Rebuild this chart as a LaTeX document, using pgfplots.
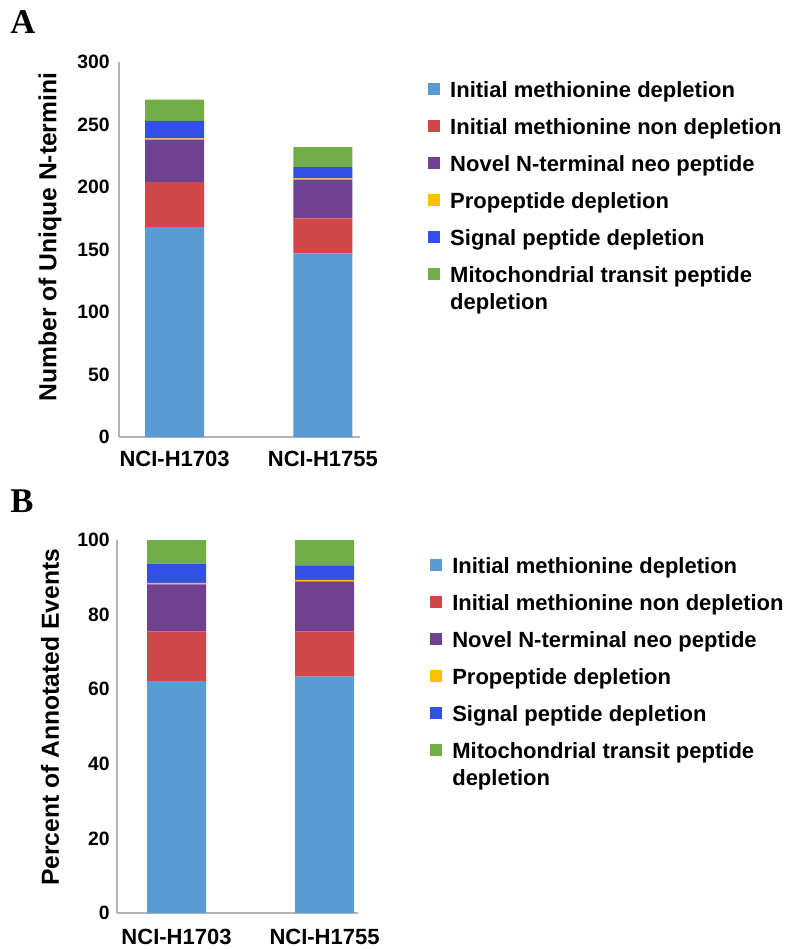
\documentclass[border=0pt]{standalone}
\usepackage{pgfplots}
\pgfplotsset{compat=1.18}
\usepackage{fontspec}
\setmainfont{Liberation Sans}
\newfontfamily\serifletter{Liberation Serif}
\definecolor{cA}{RGB}{91,155,213}
\definecolor{cB}{RGB}{208,72,72}
\definecolor{cC}{RGB}{112,65,145}
\definecolor{cD}{RGB}{255,192,0}
\definecolor{cE}{RGB}{50,80,230}
\definecolor{cF}{RGB}{112,173,71}
\pgfplotsset{
  panel/.style={
    scale only axis,
    width=180.75pt,
    ybar stacked,
    bar width=44.25pt,
    axis x line*=bottom,
    axis y line*=left,
    axis line style={-, draw=black!30, line width=0.8pt},
    xtick={0,1},
    xticklabels={NCI-H1703,NCI-H1755},
    xtick style={draw=none},
    ytick style={draw=none},
    ymin=0,
    /pgf/number format/assume math mode=true,
    yticklabel style={font=\bfseries\fontsize{14.5}{16}\selectfont, inner sep=0pt, anchor=east},
    xticklabel style={font=\bfseries\fontsize{16.5}{19}\selectfont, inner sep=0pt, anchor=north},
    ylabel style={font=\bfseries\fontsize{18.5}{21}\selectfont, anchor=center, rotate=0},
    legend image code/.code={\fill[##1,draw=none] (0pt,1.5pt) rectangle (9pt,10.5pt);},
    legend style={draw=none, fill=none, inner sep=0pt, anchor=north west,
      font=\bfseries\fontsize{16.5}{19}\selectfont,
      row sep=12.25pt, column sep=7.5pt,
      cells={anchor=base west},
      nodes={inner sep=0pt, text height=12pt, text depth=3.5pt}},
    every axis plot/.append style={draw=none},
  }
}
\begin{document}
\begin{tikzpicture}
\useasboundingbox (0,0) rectangle (595.5pt,-712.5pt);
\node[anchor=base west, inner sep=0pt, font=\serifletter\bfseries\fontsize{26}{30}\selectfont] at (7.5pt,-24.75pt) {A};
\node[anchor=base west, inner sep=0pt, font=\serifletter\bfseries\fontsize{26}{30}\selectfont] at (7.5pt,-384pt) {B};
% Panel A
\begin{axis}[panel,
  at={(89.25pt,-327.75pt)}, anchor=south west,
  height=281.25pt,
  xmin=-0.375, xmax=1.25,
  ymax=300, ytick={0,50,100,150,200,250,300},
  yticklabel style={xshift=-6.75pt},
  xticklabel style={yshift=-10.5pt},
  ylabel={Number of Unique N-termini},
  ylabel style={at={(axis description cs:-0.286,0.533)}},
  legend style={at={(axis description cs:1.282,0.949)}},
]
\addplot[fill=cA] coordinates {(0,168) (1,147)};
\addplot[fill=cB] coordinates {(0,36) (1,28)};
\addplot[fill=cC] coordinates {(0,34) (1,31)};
\addplot[fill=cD] coordinates {(0,1) (1,1)};
\addplot[fill=cE] coordinates {(0,14) (1,9)};
\addplot[fill=cF] coordinates {(0,17) (1,16)};
\legend{Initial methionine depletion, Initial methionine non depletion, Novel N-terminal neo peptide, Propeptide depletion, Signal peptide depletion, {\vtop{\baselineskip=20pt\hbox{Mitochondrial transit peptide}\hbox{depletion}}}}
\end{axis}
% Panel B
\begin{axis}[panel,
  at={(87.75pt,-684.75pt)}, anchor=south west,
  height=279.75pt,
  xmin=-0.402, xmax=1.226,
  ymax=100, ytick={0,20,40,60,80,100},
  yticklabel style={xshift=-5.25pt},
  xticklabel style={yshift=-12pt},
  ylabel={Percent of Annotated Events},
  ylabel style={at={(axis description cs:-0.278,0.525)}},
  legend style={at={(axis description cs:1.299,0.954)}},
]
\addplot[fill=cA] coordinates {(0,62.2) (1,63.4)};
\addplot[fill=cB] coordinates {(0,13.3) (1,12.1)};
\addplot[fill=cC] coordinates {(0,12.6) (1,13.4)};
\addplot[fill=cD] coordinates {(0,0.4) (1,0.4)};
\addplot[fill=cE] coordinates {(0,5.2) (1,3.9)};
\addplot[fill=cF] coordinates {(0,6.3) (1,6.8)};
\legend{Initial methionine depletion, Initial methionine non depletion, Novel N-terminal neo peptide, Propeptide depletion, Signal peptide depletion, {\vtop{\baselineskip=20pt\hbox{Mitochondrial transit peptide}\hbox{depletion}}}}
\end{axis}
\end{tikzpicture}
\end{document}
